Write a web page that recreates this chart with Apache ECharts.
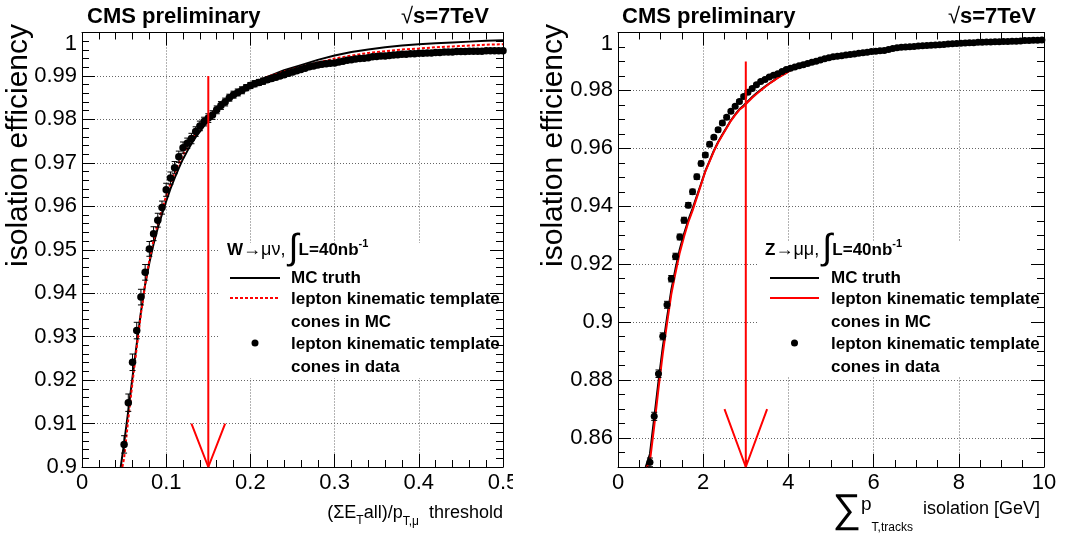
<!DOCTYPE html>
<html><head><meta charset="utf-8">
<script src="https://cdn.jsdelivr.net/npm/echarts@6/dist/echarts.min.js"></script>
<style>html,body{margin:0;padding:0;background:#fff}#c{width:1069px;height:536px}</style>
</head><body><div id="c"></div>
<script>
// ---------------- DATA ----------------
// Left panel: W -> mu nu
const leftDataX = [0.050,0.055,0.060,0.065,0.070,0.075,0.080,0.085,0.090,0.095,
0.100,0.105,0.110,0.115,0.120,0.125,0.130,0.135,0.140,0.145,
0.150,0.155,0.160,0.165,0.170,0.175,0.180,0.185,0.190,0.195,
0.200,0.205,0.210,0.215,0.220,0.225,0.230,0.235,0.240,0.245,
0.250,0.255,0.260,0.265,0.270,0.275,0.280,0.285,0.290,0.295,
0.300,0.305,0.310,0.315,0.320,0.325,0.330,0.335,0.340,0.345,
0.350,0.355,0.360,0.365,0.370,0.375,0.380,0.385,0.390,0.395,
0.400,0.405,0.410,0.415,0.420,0.425,0.430,0.435,0.440,0.445,
0.450,0.455,0.460,0.465,0.470,0.475,0.480,0.485,0.490,0.495,
0.500];
const leftDataY = [0.9052,0.9148,0.9241,0.9314,0.9391,0.9448,0.9502,0.9537,0.9568,0.9597,
0.9638,0.9665,0.9689,0.9714,0.9735,0.9745,0.9756,0.9772,0.9785,0.9795,
0.9803,0.9810,0.9822,0.9832,0.9840,0.9850,0.9857,0.9862,0.9867,0.9873,
0.9878,0.9882,0.9885,0.9888,0.9891,0.9894,0.9897,0.9900,0.9903,0.9906,
0.9909,0.9912,0.9915,0.9918,0.9921,0.9923,0.9925,0.9927,0.9928,0.9929,
0.9930,0.9932,0.9934,0.9936,0.9937,0.9939,0.9940,0.9941,0.9942,0.9944,
0.9945,0.9946,0.9946,0.9947,0.9948,0.9949,0.9950,0.9950,0.9951,0.9951,
0.9952,0.9952,0.9953,0.9953,0.9954,0.9954,0.9955,0.9955,0.9955,0.9956,
0.9956,0.9956,0.9957,0.9957,0.9957,0.9957,0.9958,0.9958,0.9958,0.9958,
0.9958];
const leftDataErr = [0.0020,0.0020,0.0019,0.0019,0.0018,0.0018,0.0017,0.0016,0.0016,0.0015,
0.0015,0.0014,0.0014,0.0013,0.0013,0.0012,0.0012,0.0011,0.0011,0.0010,
0.0010,0.0010,0.0009,0.0009,0.0009,0.0008,0.0008,0.0008,0.0008,0.0007,
0.0007,0.0007,0.0007,0.0007,0.0006,0.0006,0.0006,0.0006,0.0006,0.0006,
0.0006,0.0005,0.0005,0.0005,0.0005,0.0005,0.0005,0.0005,0.0005,0.0005,
0.0005,0.0005,0.0004,0.0004,0.0004,0.0004,0.0004,0.0004,0.0004,0.0004,
0.0004,0.0004,0.0004,0.0004,0.0004,0.0004,0.0004,0.0004,0.0004,0.0004,
0.0003,0.0003,0.0003,0.0003,0.0003,0.0003,0.0003,0.0003,0.0003,0.0003,
0.0003,0.0003,0.0003,0.0003,0.0003,0.0003,0.0003,0.0003,0.0003,0.0003,
0.0003];
const leftTruthX = [0.046,0.050,0.055,0.060,0.065,0.070,0.075,0.080,0.085,0.090,0.095,0.100,0.105,0.110,0.115,0.120,0.125,0.130,0.135,0.140,0.145,0.150,0.160,0.170,0.180,0.190,0.200,0.220,0.240,0.260,0.280,0.300,0.320,0.340,0.360,0.380,0.400,0.420,0.440,0.460,0.480,0.500];
const leftTruthY = [0.9000,0.9055,0.9130,0.9207,0.9283,0.9357,0.9420,0.9470,0.9513,0.9550,0.9582,0.9612,0.9640,0.9665,0.9688,0.9709,0.9727,0.9744,0.9759,0.9772,0.9785,0.9797,0.9820,0.9840,0.9857,0.9870,0.9881,0.9898,0.9913,0.9925,0.9937,0.9947,0.9955,0.9961,0.9966,0.9970,0.9973,0.9975,0.9977,0.9979,0.9981,0.9982];
const leftTmplX = [0.048,0.050,0.055,0.060,0.065,0.070,0.075,0.080,0.085,0.090,0.095,0.100,0.105,0.110,0.115,0.120,0.125,0.130,0.135,0.140,0.145,0.150,0.160,0.170,0.180,0.190,0.200,0.220,0.240,0.260,0.280,0.300,0.320,0.340,0.360,0.380,0.400,0.420,0.440,0.460,0.480,0.500];
const leftTmplY = [0.9000,0.9020,0.9110,0.9195,0.9275,0.9352,0.9420,0.9476,0.9522,0.9560,0.9593,0.9624,0.9652,0.9677,0.9699,0.9719,0.9737,0.9753,0.9767,0.9780,0.9791,0.9802,0.9824,0.9843,0.9858,0.9871,0.9882,0.9898,0.9910,0.9921,0.9931,0.9940,0.9947,0.9953,0.9957,0.9961,0.9963,0.9966,0.9968,0.9970,0.9972,0.9973];
const leftArrowX = [0.15, 0.15];
const leftArrowY = [0.99, 0.90];
const leftHeadX = [0.13, 0.15, 0.17];
const leftHeadY = [0.91, 0.90, 0.91];

// Right panel: Z -> mu mu
const rightDataX = [0.75,0.85,0.95,1.05,1.15,1.25,1.35,1.45,1.55,1.65,
1.75,1.85,1.95,2.05,2.15,2.25,2.35,2.45,2.55,2.65,
2.75,2.85,2.95,3.05,3.15,3.25,3.35,3.45,3.55,3.65,
3.75,3.85,3.95,4.05,4.15,4.25,4.35,4.45,4.55,4.65,
4.75,4.85,4.95,5.05,5.15,5.25,5.35,5.45,5.55,5.65,
5.75,5.85,5.95,6.05,6.15,6.25,6.35,6.45,6.55,6.65,
6.75,6.85,6.95,7.05,7.15,7.25,7.35,7.45,7.55,7.65,
7.75,7.85,7.95,8.05,8.15,8.25,8.35,8.45,8.55,8.65,
8.75,8.85,8.95,9.05,9.15,9.25,9.35,9.45,9.55,9.65,
9.75,9.85,9.95];
const rightDataY = [0.8516,0.8675,0.8822,0.8951,0.9060,0.9150,0.9227,0.9294,0.9352,0.9404,
0.9450,0.9502,0.9548,0.9577,0.9614,0.9638,0.9664,0.9688,0.9707,0.9728,
0.9745,0.9762,0.9779,0.9794,0.9807,0.9820,0.9831,0.9838,0.9846,0.9852,
0.9858,0.9865,0.9872,0.9877,0.9881,0.9885,0.9889,0.9893,0.9897,0.9901,
0.9905,0.9909,0.9913,0.9916,0.9918,0.9920,0.9922,0.9924,0.9926,0.9928,
0.9930,0.9932,0.9934,0.9935,0.9937,0.9938,0.9941,0.9945,0.9947,0.9949,
0.9950,0.9951,0.9952,0.9953,0.9954,0.9955,0.9956,0.9957,0.9958,0.9959,
0.9960,0.9961,0.9962,0.9963,0.9964,0.9965,0.9965,0.9966,0.9966,0.9967,
0.9967,0.9968,0.9968,0.9969,0.9969,0.9970,0.9970,0.9971,0.9972,0.9972,
0.9973,0.9973,0.9974];
const rightDataErr = [0.0015,0.0014,0.0013,0.0012,0.0012,0.0011,0.0011,0.0010,0.0010,0.0009,
0.0009,0.0009,0.0008,0.0008,0.0008,0.0007,0.0007,0.0007,0.0007,0.0006,
0.0006,0.0006,0.0006,0.0006,0.0006,0.0005,0.0005,0.0005,0.0005,0.0005,
0.0005,0.0005,0.0005,0.0005,0.0005,0.0005,0.0005,0.0005,0.0005,0.0005,
0.0005,0.0005,0.0005,0.0004,0.0004,0.0004,0.0004,0.0004,0.0004,0.0004,
0.0004,0.0004,0.0004,0.0004,0.0004,0.0004,0.0004,0.0004,0.0004,0.0004,
0.0004,0.0004,0.0004,0.0003,0.0003,0.0003,0.0003,0.0003,0.0003,0.0003,
0.0003,0.0003,0.0003,0.0003,0.0003,0.0003,0.0003,0.0003,0.0003,0.0003,
0.0003,0.0003,0.0003,0.0003,0.0003,0.0003,0.0003,0.0003,0.0003,0.0003,
0.0003,0.0003,0.0003];
const rightTruthX = [0.65,0.75,0.85,0.95,1.05,1.15,1.25,1.35,1.45,1.55,1.65,1.75,1.85,1.95,2.05,2.15,2.25,2.35,2.45,2.55,2.65,2.75,2.85,2.95,3.05,3.15,3.25,3.35,3.45,3.55,3.65,3.75,3.85,3.95,4.05,4.25,4.5,4.75,5.0,5.25,5.5,5.75,6.0,6.25,6.5,6.75,7.0,7.5,8.0,8.5,9.0,9.5,10.0];
const rightTruthY = [0.8500,0.8545,0.8670,0.8795,0.8912,0.9015,0.9110,0.9185,0.9252,0.9305,0.9352,0.9392,0.9435,0.9478,0.9522,0.9557,0.9592,0.9622,0.9648,0.9672,0.9697,0.9717,0.9735,0.9748,0.9763,0.9777,0.9790,0.9802,0.9813,0.9824,0.9834,0.9844,0.9853,0.9861,0.9870,0.9886,0.9896,0.9906,0.9914,0.9920,0.9925,0.9930,0.9934,0.9938,0.9945,0.9950,0.9953,0.9958,0.9962,0.9966,0.9969,0.9972,0.9975];
const rightTmplX = [0.68,0.75,0.85,0.95,1.05,1.15,1.25,1.35,1.45,1.55,1.65,1.75,1.85,1.95,2.05,2.15,2.25,2.35,2.45,2.55,2.65,2.75,2.85,2.95,3.05,3.15,3.25,3.35,3.45,3.55,3.65,3.75,3.85,3.95,4.05,4.25,4.5,4.75,5.0,5.25,5.5,5.75,6.0,6.25,6.5,6.75,7.0,7.5,8.0,8.5,9.0,9.5,10.0];
const rightTmplY = [0.8500,0.8520,0.8640,0.8770,0.8890,0.8995,0.9095,0.9170,0.9240,0.9295,0.9345,0.9385,0.9430,0.9475,0.9520,0.9555,0.9590,0.9620,0.9645,0.9670,0.9695,0.9715,0.9733,0.9745,0.9760,0.9775,0.9788,0.9800,0.9812,0.9823,0.9833,0.9843,0.9852,0.9860,0.9870,0.9887,0.9897,0.9907,0.9916,0.9922,0.9927,0.9932,0.9936,0.9940,0.9947,0.9952,0.9955,0.9960,0.9964,0.9968,0.9971,0.9974,0.9977];
const rightArrowX = [3, 3];
const rightArrowY = [0.99, 0.85];
const rightHeadX = [2.5, 3, 3.5];
const rightHeadY = [0.87, 0.85, 0.87];

// ---------------- CHART ----------------
const FF = '"Liberation Sans", Arial, Helvetica, sans-serif';
const chart = echarts.init(document.getElementById('c'), null, {renderer: 'canvas'});
const zip = (xs, ys) => xs.map((x, i) => [x, ys[i]]);

function xAx(grid, pos, min, max, interval, minorSplit, labels) {
  return {
    type: 'value', gridIndex: grid, position: pos, min: min, max: max, interval: interval,
    z: labels ? 0 : 3,
    axisLine: {show: true, onZero: false, lineStyle: {color: '#000', width: 1}},
    axisTick: {show: true, inside: true, length: 13, lineStyle: {color: '#000', width: 1}},
    minorTick: {show: true, splitNumber: minorSplit, length: 7, lineStyle: {color: '#000', width: 1}},
    axisLabel: {show: labels, fontSize: 22, color: '#000', fontFamily: FF, margin: 5, showMinLabel: true, showMaxLabel: true},
    splitLine: {show: labels, lineStyle: {color: '#666', type: [1, 2], width: 1}},
    minorSplitLine: {show: false}
  };
}
function yAx(grid, pos, min, max, interval, minorSplit, labels, splitNumber) {
  const o = {
    type: 'value', gridIndex: grid, position: pos, min: min, max: max,
    z: labels ? 0 : 3,
    axisLine: {show: true, onZero: false, lineStyle: {color: '#000', width: 1}},
    axisTick: {show: true, inside: true, length: 13, lineStyle: {color: '#000', width: 1}},
    minorTick: {show: minorSplit > 0, splitNumber: minorSplit || 5, length: 7, lineStyle: {color: '#000', width: 1}},
    axisLabel: {show: labels, fontSize: 22, color: '#000', fontFamily: FF, margin: 5,
      showMinLabel: interval ? true : false, showMaxLabel: true, verticalAlignMaxLabel: 'top'},
    splitLine: {show: labels, lineStyle: {color: '#666', type: [1, 2], width: 1}},
    minorSplitLine: {show: false}
  };
  if (interval) o.interval = interval; else o.splitNumber = splitNumber;
  return o;
}
function minorY(grid, pos) {
  return {type: 'value', gridIndex: grid, position: pos, min: 0.85, max: 1, interval: 0.005, z: 3,
    axisLine: {show: false}, axisLabel: {show: false}, splitLine: {show: false},
    axisTick: {show: true, inside: true, length: 7, lineStyle: {color: '#000', width: 1}}};
}

function errSeries(xi, yi, xs, ys, es, cap) {
  return {
    type: 'custom', xAxisIndex: xi, yAxisIndex: yi, clip: true, z: 3, silent: true,
    data: xs.map((x, i) => [x, ys[i], es[i]]),
    encode: {x: 0, y: 1},
    renderItem: function (p, api) {
      const x = api.value(0), y = api.value(1), e = api.value(2);
      const a = api.coord([x, y + e]), b = api.coord([x, y - e]);
      const st = {stroke: '#000', lineWidth: 1};
      return {type: 'group', children: [
        {type: 'line', shape: {x1: a[0], y1: a[1], x2: b[0], y2: b[1]}, style: st},
        {type: 'line', shape: {x1: a[0] - cap, y1: a[1], x2: a[0] + cap, y2: a[1]}, style: st},
        {type: 'line', shape: {x1: b[0] - cap, y1: b[1], x2: b[0] + cap, y2: b[1]}, style: st}
      ]};
    }
  };
}
function lineSeries(xi, yi, xs, ys, color, width, type, z) {
  return {type: 'line', xAxisIndex: xi, yAxisIndex: yi, data: zip(xs, ys), symbol: 'none',
    showSymbol: false, clip: true, z: z || 2, silent: true,
    lineStyle: {color: color, width: width, type: type || 'solid'}};
}

// text layout helper (positions only)
const mctx = document.createElement('canvas').getContext('2d');
function runs(list, x0, y0, alignRight) {
  let w = 0;
  const ws = list.map(r => { mctx.font = r.font; const m = mctx.measureText(r.t).width; w += m; return m; });
  let x = alignRight ? x0 - w : x0;
  return list.map((r, i) => {
    const el = {type: 'text', x: x, y: y0 + (r.dy || 0), z: 10,
      style: {text: r.t, font: r.font, fill: '#000', textAlign: 'left', textVerticalAlign: 'middle', align: 'left', verticalAlign: 'middle'}};
    x += ws[i];
    return el;
  });
}
function txt(t, x, y, font, align, extra) {
  return Object.assign({type: 'text', x: x, y: y, z: 10,
    style: {text: t, font: font, fill: '#000', textAlign: align || 'left', align: align || 'left', textVerticalAlign: 'middle', verticalAlign: 'middle'}}, extra || {});
}
const B17 = 'bold 17px ' + FF, N17 = '18px ' + FF;

function legendBlock(x0, iconX1, iconX2, textX, header, tmplDash) {
  const els = [];
  els.push(...runs([
    {t: header[0], font: B17},
    {t: header[1], font: N17},
    {t: ' ', font: '12px ' + FF},
    {t: '\u222B', font: '36px ' + FF, dy: -1},
    {t: 'L=40nb', font: B17},
    {t: '-1', font: 'bold 11px ' + FF, dy: -6}
  ], x0, 250, false));
  els.push({type: 'line', z: 10, shape: {x1: iconX1, y1: 278, x2: iconX2, y2: 278}, style: {stroke: '#000', lineWidth: 2}});
  els.push({type: 'line', z: 10, shape: {x1: iconX1, y1: 298, x2: iconX2, y2: 298}, style: {stroke: '#f00', lineWidth: 2, lineDash: tmplDash}});
  els.push({type: 'circle', z: 10, shape: {cx: (iconX1 + iconX2) / 2, cy: 343, r: 3.5}, style: {fill: '#000'}});
  els.push(txt('MC truth', textX, 278, B17));
  els.push(txt('lepton kinematic template', textX, 299, B17));
  els.push(txt('cones in MC', textX, 322, B17));
  els.push(txt('lepton kinematic template', textX, 344, B17));
  els.push(txt('cones in data', textX, 367, B17));
  return els;
}

const graphics = [];
// legend backgrounds (hide grid lines)
graphics.push({type: 'rect', z: 1, shape: {x: 220, y: 243, width: 282, height: 135}, style: {fill: '#fff'}});
graphics.push({type: 'rect', z: 1, shape: {x: 759, y: 241, width: 284, height: 136}, style: {fill: '#fff'}});
// canvas edge of left pad (clips the last x label)
graphics.push({type: 'rect', z: 20, shape: {x: 513, y: 470, width: 24, height: 30}, style: {fill: '#fff'}});
// titles
graphics.push(txt('CMS preliminary', 87, 17, 'bold 22px ' + FF));
graphics.push(txt('CMS preliminary', 622, 17, 'bold 22px ' + FF));
graphics.push(txt('\u221A', 413, 17, '22px ' + FF, 'right'));
graphics.push(txt('s=7TeV', 413, 17, 'bold 22px ' + FF));
graphics.push(txt('\u221A', 960, 17, '22px ' + FF, 'right'));
graphics.push(txt('s=7TeV', 960, 17, 'bold 22px ' + FF));
// y titles
graphics.push(txt('isolation efficiency', 19, 24, '30px ' + FF, 'right', {rotation: Math.PI / 2}));
graphics.push(txt('isolation efficiency', 554, 24, '30px ' + FF, 'right', {rotation: Math.PI / 2}));
// x titles
graphics.push(...runs([
  {t: '(\u03A3E', font: '18px ' + FF},
  {t: 'T', font: '12px ' + FF, dy: 8},
  {t: 'all)/p', font: '18px ' + FF},
  {t: 'T,\u03BC', font: '12px ' + FF, dy: 9},
  {t: '  threshold', font: '18px ' + FF}
], 503, 513, true));
graphics.push(...runs([
  {t: '\u2211', font: '40px ' + FF, dy: 2},
  {t: 'p', font: '19px ' + FF, dy: -4},
  {t: 'T,tracks', font: '12px ' + FF, dy: 19},
  {t: '  isolation [GeV]', font: '18px ' + FF, dy: 0}
], 1040, 509, true));
// legends
graphics.push(...legendBlock(227, 230, 280, 291, ['W', '\u2192\u03BC\u03BD,'], [3, 2]));
graphics.push(...legendBlock(765, 770, 819, 831, ['Z', '\u2192\u03BC\u03BC,'], null));

const option = {
  animation: false,
  backgroundColor: '#fff',
  grid: [
    {left: 82, top: 32.5, width: 421, height: 434.5, containLabel: false, outerBoundsMode: 'none'},
    {left: 618, top: 32.5, width: 426, height: 434.5, containLabel: false, outerBoundsMode: 'none'},
    {left: 618, top: 32.5, width: 426, height: 434.5, containLabel: false, outerBoundsMode: 'none'}
  ],
  xAxis: [
    xAx(0, 'bottom', 0, 0.5, 0.1, 5, true),
    xAx(0, 'top', 0, 0.5, 0.1, 5, false),
    xAx(1, 'bottom', 0, 10, 2, 4, true),
    xAx(1, 'top', 0, 10, 2, 4, false),
    {type: 'value', gridIndex: 2, min: 0, max: 10, show: false}
  ],
  yAxis: [
    yAx(0, 'left', 0.9, 1, 0.01, 5, true),
    yAx(0, 'right', 0.9, 1, 0.01, 5, false),
    yAx(1, 'left', 0.85, 1, null, 0, true, 7),
    yAx(1, 'right', 0.85, 1, null, 0, false, 7),
    minorY(2, 'left'),
    minorY(2, 'right')
  ],
  series: [
    lineSeries(0, 0, leftTruthX, leftTruthY, '#000', 2, 'solid', 2),
    lineSeries(0, 0, leftTmplX, leftTmplY, '#f00', 2, [3, 2], 2),
    errSeries(0, 0, leftDataX, leftDataY, leftDataErr, 3),
    {type: 'scatter', xAxisIndex: 0, yAxisIndex: 0, data: zip(leftDataX, leftDataY), symbol: 'circle',
      symbolSize: 7.5, itemStyle: {color: '#000', opacity: 1}, z: 4, silent: true, clip: true},
    lineSeries(0, 0, leftArrowX, leftArrowY, '#f00', 2, 'solid', 5),
    lineSeries(0, 0, leftHeadX, leftHeadY, '#f00', 2, 'solid', 5),

    lineSeries(2, 2, rightTruthX, rightTruthY, '#000', 2, 'solid', 2),
    lineSeries(2, 2, rightTmplX, rightTmplY, '#f00', 2, 'solid', 2),
    errSeries(2, 2, rightDataX, rightDataY, rightDataErr, 3),
    {type: 'scatter', xAxisIndex: 2, yAxisIndex: 2, data: zip(rightDataX, rightDataY), symbol: 'circle',
      symbolSize: 7, itemStyle: {color: '#000', opacity: 1}, z: 4, silent: true, clip: true},
    lineSeries(2, 2, rightArrowX, rightArrowY, '#f00', 2, 'solid', 5),
    lineSeries(2, 2, rightHeadX, rightHeadY, '#f00', 2, 'solid', 5)
  ],
  graphic: {elements: graphics}
};
chart.setOption(option);
</script>
</body></html>
